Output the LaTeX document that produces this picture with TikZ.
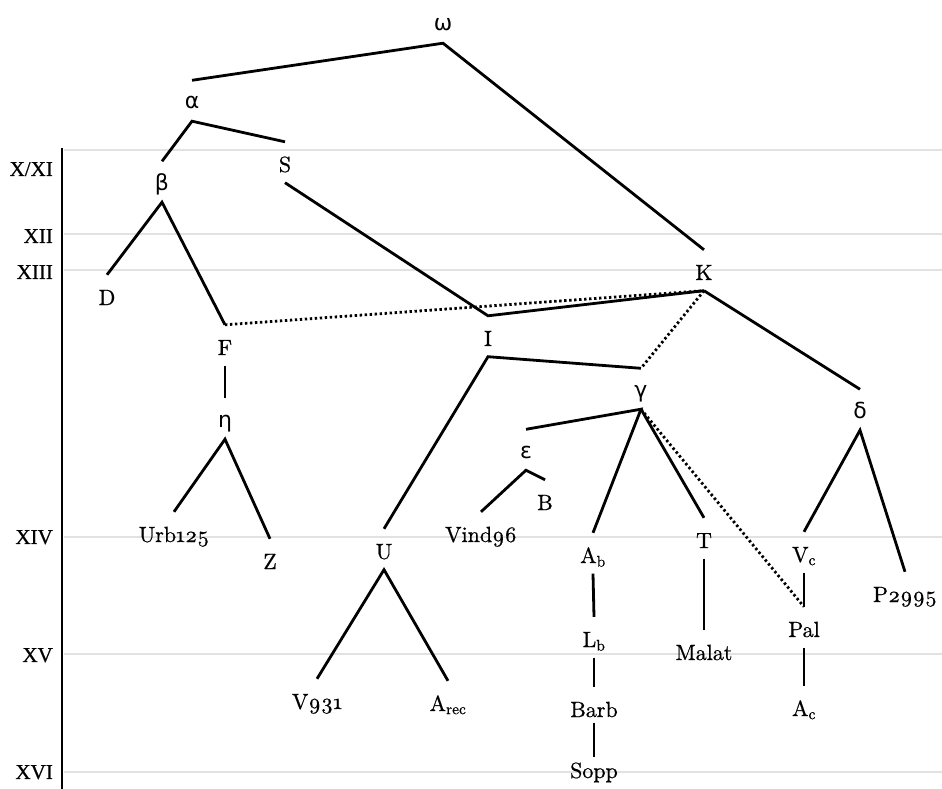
\documentclass[tikz,border=0pt]{standalone}
\usepackage{fontspec}
\newfontfamily\grkfont{DejaVu Sans}
\newfontfamily\lblfont{Liberation Serif}[FakeBold=0.5]
\newfontfamily\lmten{lmroman10-regular.otf}[FakeBold=0.6, Numbers=OldStyle]
\newcommand\osn[1]{#1}
\definecolor{eragray}{RGB}{226,226,226}
\begin{document}
\begin{tikzpicture}[x=1pt,y=-1pt,
  lat/.style={font=\lmten\fontsize{22}{26}\selectfont, inner sep=0pt, text height=30pt, text depth=10.5pt, anchor=base},
  grk/.style={font=\grkfont\fontsize{22}{26}\selectfont, inner sep=0pt, text height=28.5pt, text depth=12pt, anchor=base},
  era/.style={font=\lblfont\fontsize{21}{25}\selectfont, inner sep=0pt, text height=13.9pt, text depth=0pt, anchor=east},
  eraline/.style={draw=eragray, line width=2.4pt},
  conn/.style={line width=2.8pt},
  dconn/.style={line width=2.8pt, dash pattern=on 2.4pt off 2.6pt}]
\useasboundingbox (0,0) rectangle (942,789);
% era grid
\foreach \y in {150,234,270,537,654,772} \draw[eraline] (64,\y) -- (942,\y);
\draw[line width=2.8pt] (62,148) -- (62,789);
\node[era] (eX)    at (53,169) {X/XI};
\node[era] (eXII)  at (53,236) {XII};
\node[era] (eXIII) at (53,272) {XIII};
\node[era] (eXIV)  at (53,537) {XIV};
\node[era] (eXV)   at (53,655) {XV};
\node[era] (eXVI)  at (53,772) {XVI};
% nodes
\node[grk] (omega) at (443,31)  {ω};
\node[grk] (alpha) at (192,109) {α};
\node[grk] (beta)  at (162,190) {β};
\node[lat] (S)     at (285,172) {S};
\node[lat] (D)     at (107,305) {D};
\node[lat] (F)     at (225,355) {F};
\node[grk] (eta)   at (225,427) {η};
\node[lat] (Urb)   at (174,542) {Urb\osn{125}};
\node[lat] (Z)     at (270,569) {Z};
\node[lat] (I)     at (488,346) {I};
\node[lat] (K)     at (704,280) {K};
\node[grk] (gamma) at (641,397) {γ};
\node[grk] (delta) at (860,418) {δ};
\node[grk] (eps)   at (526,458) {ε};
\node[lat] (B)     at (545,510) {B};
\node[lat] (Vind)  at (481,542) {Vind\osn{96}};
\node[lat] (U)     at (384,559) {U};
\node[lat] (V931)  at (317,709) {V\osn{931}};
\node[lat] (Arec)  at (448,711) {A\textsubscript{rec}};
\node[lat] (Ab)    at (593,563) {A\textsubscript{b}};
\node[lat] (Lb)    at (594,647) {L\textsubscript{b}};
\node[lat] (Barb)  at (594,717) {Barb};
\node[lat] (Sopp)  at (594,778) {Sopp};
\node[lat] (T)     at (704,548) {T};
\node[lat] (Malat) at (704,660) {Malat};
\node[lat] (Vc)    at (804,562) {V\textsubscript{c}};
\node[lat] (Pal)   at (804,637) {Pal};
\node[lat] (Ac)    at (804,716) {A\textsubscript{c}};
\node[lat] (P)     at (905,602) {P\osn{2995}};
% connectors
\draw[conn] (alpha.north) -- (omega.south) -- (K.north);
\draw[conn] (beta.north) -- (alpha.south) -- (S.north);
\draw[conn] (D.north) -- (beta.south) -- (F.north);
\draw[conn] (S.south) -- (I.north) -- (K.south);
\draw[dconn] (F.north) -- (K.south);
\draw[conn] (F.south) -- (eta.north);
\draw[conn] (Urb.north) -- (eta.south) -- (Z.north);
\draw[conn] (U.north) -- (I.south) -- (gamma.north);
\draw[dconn] (K.south) -- (gamma.north);
\draw[conn] (K.south) -- (delta.north);
\draw[conn] (V931.north) -- (U.south) -- (Arec.north);
\draw[conn] (eps.north) -- (gamma.south) -- (Ab.north);
\draw[conn] (gamma.south) -- (T.north);
\draw[dconn] (gamma.south) -- (Pal.north);
\draw[conn] (Vind.north) -- (eps.south) -- (B.north);
\draw[conn] (Vc.north) -- (delta.south) -- (P.north);
\draw[conn] (Ab.south) -- (Lb.north);
\draw[conn] (Lb.south) -- (Barb.north);
\draw[conn, shorten <=-5pt, shorten >=-9pt] (Barb.south) -- (Sopp.north);
\draw[conn] (T.south) -- (Malat.north);
\draw[conn] (Vc.south) -- (Pal.north);
\draw[conn] (Pal.south) -- (Ac.north);
\end{tikzpicture}
\end{document}
